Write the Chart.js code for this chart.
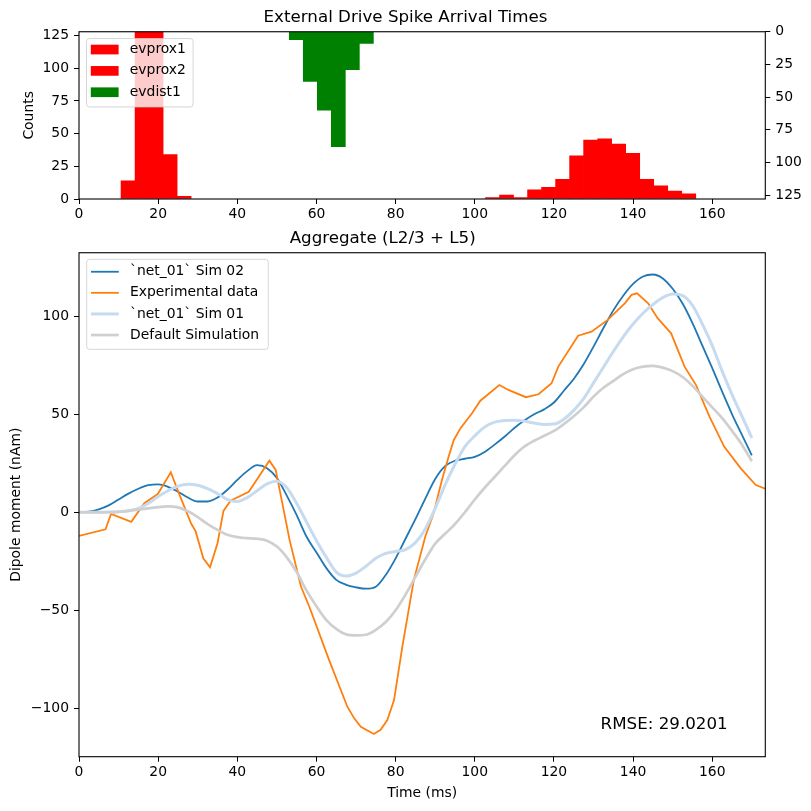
<!DOCTYPE html>
<html><head><meta charset="utf-8">
<script src="https://cdn.jsdelivr.net/npm/chart.js@4.4.1/dist/chart.umd.min.js"></script>
<style>
html,body{margin:0;padding:0;background:#fff;overflow:hidden;width:811px;height:811px;}
canvas{position:absolute;left:0;}
</style></head>
<body>
<canvas id="hist" width="811" height="230" style="top:0;width:811px;height:230px"></canvas>
<canvas id="dip" width="811" height="591" style="top:220px;width:811px;height:591px"></canvas>
<script>
const FONT = "'DejaVu Sans', 'Liberation Sans', sans-serif";

// ---------- Histogram data ----------
const histTitle = 'External Drive Spike Arrival Times';
const histAxisRange = [0, 173.4];
const histBinRange = [0, 170];
const histBinCount = 48;
const histYMax = 128;
const histXTicks = [0, 20, 40, 60, 80, 100, 120, 140, 160];
const histYTicks = [0, 25, 50, 75, 100, 125];
const histLabels = ['evprox1', 'evprox2', 'evdist1'];
const evprox1Bins = [3, 4, 5, 6, 7];
const evprox1Counts = [14, 175, 160, 34, 2];
const evprox2Bins = [29, 30, 31, 32, 33, 34, 35, 36, 37, 38, 39, 40, 41, 42, 43];
const evprox2Counts = [1, 3, 1, 7, 9, 15, 33, 45, 46, 42, 35, 15, 10, 6, 4];
const evdist1Bins = [15, 16, 17, 18, 19, 20];
const evdist1Counts = [6, 38, 60, 88, 29, 9];

// ---------- Dipole data ----------
const dipTitle = 'Aggregate (L2/3 + L5)';
const dipXRange = [0, 173.4];
const dipYRange = [-124.7, 132.4];
const dipXTicks = [0, 20, 40, 60, 80, 100, 120, 140, 160];
const dipYTicks = [-100, -50, 0, 50, 100];
const seriesNames = ['`net_01` Sim 02', 'Experimental data', '`net_01` Sim 01', 'Default Simulation'];
const rmseText = 'RMSE: 29.0201';

const simTimes = [0, 2.5, 5, 7.5, 10, 12.5, 15, 17.5, 20, 22.5, 25, 27.5, 30, 32.5, 35, 37.5,
  40, 42.5, 45, 47.5, 50, 52.5, 55, 57.5, 60, 62.5, 65, 67.5, 70, 72.5, 75, 77.5,
  80, 82.5, 85, 87.5, 90, 92.5, 95, 97.5, 100, 102.5, 105, 107.5, 110, 112.5, 115, 117.5,
  120, 122.5, 125, 127.5, 130, 132.5, 135, 137.5, 140, 142.5, 145, 147.5, 150, 152.5, 155, 157.5,
  160, 162.5, 165, 167.5, 170];

const sim02 = [0, 0.3, 1.5, 3.5, 6.5, 9.5, 12, 13.8, 14.2, 13, 10.5, 7.5, 5.5, 5.5, 7.5, 11.5,
  16.5, 21, 24, 22.5, 17.5, 8.5, -1.5, -12.5, -20.5, -28.5, -34.5, -37, -38.3, -39, -38, -32,
  -23.5, -13.5, -3.5, 7, 17, 23.5, 26.3, 27.3, 28.3, 30.8, 34.5, 38.5, 43, 46.8, 50, 52.5,
  56, 62, 68, 75.5, 84.5, 94, 103, 110.5, 116.5, 120.3, 121.3, 119.3, 114, 106.5, 96.5, 85,
  73.5, 61.5, 50, 39.5, 29];

const sim01 = [0, 0, 0, 0.1, 0.3, 0.8, 2, 4.5, 8, 11, 13.3, 14.3, 13.8, 12, 9.5, 6.5,
  5.5, 7.5, 11, 14.5, 15.8, 12.5, 4.5, -5, -14.5, -23, -30.5, -32.5, -31, -27.5, -23.5, -21,
  -20, -19, -15.5, -8.5, 2, 14, 24.5, 33.5, 39, 43.5, 46, 46.8, 47, 46.5, 45.5, 44.8,
  45, 47.5, 52, 58, 66, 74, 82, 89.5, 96, 101.5, 106, 109.5, 111.3, 110.5, 105.5, 96,
  85, 72, 60, 49, 38];

const simDefault = [0, 0, 0, 0, 0.2, 0.7, 1.3, 2, 2.6, 3, 2.5, 0.5, -2.5, -6, -9, -11.5,
  -12.7, -13.2, -13.5, -14.5, -17.5, -23, -30.5, -40, -48, -55, -59.5, -62.3, -62.8, -62.5, -60, -56,
  -50, -42, -33, -24, -16, -11, -6, 0, 6.5, 12.5, 18, 23.5, 29, 33.5, 36.5, 39,
  41.5, 45, 49, 53.5, 59, 63.5, 67, 70.5, 73, 74.3, 74.7, 73.8, 72, 69, 64.5, 59,
  53.5, 48, 41.5, 34.5, 26];

const expTimes = [0, 6.7, 8.1, 13.2, 16.5, 19.9, 23.2, 24.9, 28.3, 29.5, 31.4, 33.1, 35, 36.5, 38.3, 42.9,
  48.1, 49.7, 53.2, 56.1, 58.2, 63.2, 67.8, 69.5, 71.2, 74.5, 76.2, 77.9, 79.6, 81.7, 84.6, 87.5,
  89.6, 91.7, 93.4, 94.7, 96.4, 99.3, 101.4, 106.2, 108.5, 112.9, 116.1, 119.4, 121.1, 126.1, 129.5, 133.5,
  137.9, 139.6, 141, 143.8, 146.2, 149.6, 153, 155.9, 159.3, 163, 167.2, 171, 173.4];
const expValues = [-12.1, -8.7, -0.9, -4.9, 4.6, 9.3, 20.4, 11.4, -5.6, -9.9, -23.5, -28.1, -15.8, 0.7, 5.9, 10.5,
  26.3, 21.6, -14.1, -38, -48.2, -75.4, -99.2, -105, -109.4, -113.1, -111, -106, -95.8, -68.6, -34.5, -12.4,
  -0.5, 16.5, 28.4, 36.9, 42.9, 50.5, 56.9, 64.9, 62.4, 58.7, 60.2, 65.8, 74.3, 90.1, 92.1, 98,
  106.6, 110.9, 111.7, 106.6, 99, 91.3, 74.3, 64.9, 48.8, 33.5, 22.4, 13.9, 12];

// ---------- helpers ----------
const binWidth = (histBinRange[1] - histBinRange[0]) / histBinCount;
const toBars = (bins, counts) => bins.map((b, i) => ({ x: histBinRange[0] + (b + 0.5) * binWidth, y: counts[i] }));
const toXY = (xs, ys) => xs.map((x, i) => ({ x, y: ys[i] }));
const minusFmt = v => (v < 0 ? '\u2212' + Math.abs(v) : String(v));
const tickFont = { family: FONT, size: 13.9 };
const tickStyle = { display: true, drawOnChartArea: false, drawTicks: true, tickLength: 5, tickColor: '#000', tickWidth: 1, offset: false };

const framePlugin = {
  id: 'frame',
  afterDraw(chart) {
    const { ctx, chartArea: a } = chart;
    ctx.save();
    ctx.strokeStyle = '#000';
    ctx.lineWidth = 1.1;
    ctx.strokeRect(a.left, a.top, a.right - a.left, a.bottom - a.top);
    ctx.restore();
  }
};

function roundRect(ctx, x, y, w, h, r) {
  ctx.beginPath();
  ctx.moveTo(x + r, y);
  ctx.lineTo(x + w - r, y); ctx.quadraticCurveTo(x + w, y, x + w, y + r);
  ctx.lineTo(x + w, y + h - r); ctx.quadraticCurveTo(x + w, y + h, x + w - r, y + h);
  ctx.lineTo(x + r, y + h); ctx.quadraticCurveTo(x, y + h, x, y + h - r);
  ctx.lineTo(x, y + r); ctx.quadraticCurveTo(x, y, x + r, y);
  ctx.closePath();
}

function makeLegend(items, box) {
  return {
    id: 'inLegend',
    afterDraw(chart) {
      const { ctx, chartArea: a } = chart;
      const x = a.left + box.dx, y = a.top + box.dy;
      ctx.save();
      roundRect(ctx, x, y, box.w, box.h, 3);
      ctx.fillStyle = 'rgba(255,255,255,0.8)';
      ctx.fill();
      ctx.strokeStyle = 'rgba(204,204,204,0.8)';
      ctx.lineWidth = 1;
      ctx.stroke();
      items.forEach((it, i) => {
        const cy = y + box.row0 + i * box.gap;
        if (it.kind === 'rect') {
          ctx.fillStyle = it.color;
          ctx.fillRect(x + 4.3, cy - 4.85, 27.8, 9.7);
        } else {
          ctx.strokeStyle = it.color;
          ctx.lineWidth = it.width;
          ctx.beginPath();
          ctx.moveTo(x + 4.3, cy);
          ctx.lineTo(x + 32.1, cy);
          ctx.stroke();
        }
        ctx.fillStyle = '#000';
        ctx.font = '13.9px ' + FONT;
        ctx.textBaseline = 'middle';
        ctx.textAlign = 'left';
        ctx.fillText(it.label, x + 43.3, cy);
      });
      ctx.restore();
    }
  };
}

// ---------- Histogram chart ----------
new Chart(document.getElementById('hist'), {
  type: 'bar',
  data: {
    datasets: [
      { label: histLabels[0], data: toBars(evprox1Bins, evprox1Counts), backgroundColor: '#ff0000', yAxisID: 'y', grouped: false, barPercentage: 1, categoryPercentage: 1, borderWidth: 0 },
      { label: histLabels[1], data: toBars(evprox2Bins, evprox2Counts), backgroundColor: '#ff0000', yAxisID: 'y', grouped: false, barPercentage: 1, categoryPercentage: 1, borderWidth: 0 },
      { label: histLabels[2], data: toBars(evdist1Bins, evdist1Counts), backgroundColor: '#008000', yAxisID: 'y2', grouped: false, barPercentage: 1, categoryPercentage: 1, borderWidth: 0 }
    ]
  },
  options: {
    responsive: false,
    animation: false,
    layout: { padding: 0 },
    plugins: {
      legend: { display: false },
      tooltip: { enabled: false },
      title: { display: true, text: histTitle, color: '#000', font: { family: FONT, size: 16.7, weight: 'normal', lineHeight: 1.2 }, padding: { top: 7.5, bottom: 4.2 } }
    },
    scales: {
      x: {
        type: 'linear', position: 'bottom', min: histAxisRange[0], max: histAxisRange[1], offset: false,
        grid: tickStyle, border: { display: false },
        ticks: { font: tickFont, color: '#000', padding: 2, maxRotation: 0 },
        afterBuildTicks: s => { s.ticks = histXTicks.map(v => ({ value: v })); },
        afterFit: s => { s.height = 31; }
      },
      y: {
        type: 'linear', position: 'left', min: 0, max: histYMax,
        grid: tickStyle, border: { display: false },
        ticks: { font: tickFont, color: '#000', padding: 5 },
        title: { display: true, text: 'Counts', color: '#000', font: { family: FONT, size: 13.9, lineHeight: 1.2 }, padding: { top: 21.5, bottom: 0 } },
        afterBuildTicks: s => { s.ticks = histYTicks.map(v => ({ value: v })); },
        afterFit: s => { s.width = 79; }
      },
      y2: {
        type: 'linear', position: 'right', min: 0, max: histYMax, reverse: true,
        grid: tickStyle, border: { display: false },
        ticks: { font: tickFont, color: '#000', padding: 5 },
        afterBuildTicks: s => { s.ticks = histYTicks.map(v => ({ value: v })); },
        afterFit: s => { s.width = 45.7; }
      }
    }
  },
  plugins: [framePlugin, makeLegend([
    { kind: 'rect', color: '#ff0000', label: histLabels[0] },
    { kind: 'rect', color: '#ff0000', label: histLabels[1] },
    { kind: 'rect', color: '#008000', label: histLabels[2] }
  ], { dx: 7.5, dy: 6.8, w: 106.6, h: 68.4, row0: 11, gap: 21.35 })]
});

// ---------- Dipole chart ----------
const lineColors = ['#1f77b4', '#ff7f0e', '#c6dbef', '#cfcfcf'];
const lineWidths = [1.8, 1.8, 3, 2.7];

const rmsePlugin = {
  id: 'rmse',
  afterDraw(chart) {
    const { ctx, chartArea: a } = chart;
    ctx.save();
    ctx.fillStyle = '#000';
    ctx.font = '16.7px ' + FONT;
    ctx.textAlign = 'left';
    ctx.textBaseline = 'alphabetic';
    ctx.fillText(rmseText, a.left + 0.76 * (a.right - a.left), a.top + 0.9 * (a.bottom - a.top) + 22.4);
    ctx.restore();
  }
};

new Chart(document.getElementById('dip'), {
  type: 'line',
  data: {
    datasets: [
      { label: seriesNames[3], data: toXY(simTimes, simDefault), borderColor: lineColors[3], borderWidth: lineWidths[3], pointRadius: 0, cubicInterpolationMode: 'monotone', fill: false },
      { label: seriesNames[2], data: toXY(simTimes, sim01), borderColor: lineColors[2], borderWidth: lineWidths[2], pointRadius: 0, cubicInterpolationMode: 'monotone', fill: false },
      { label: seriesNames[1], data: toXY(expTimes, expValues), borderColor: lineColors[1], borderWidth: lineWidths[1], pointRadius: 0, tension: 0, fill: false },
      { label: seriesNames[0], data: toXY(simTimes, sim02), borderColor: lineColors[0], borderWidth: lineWidths[0], pointRadius: 0, cubicInterpolationMode: 'monotone', fill: false }
    ]
  },
  options: {
    responsive: false,
    animation: false,
    layout: { padding: { left: 0, right: 45.7, top: 0, bottom: 0 } },
    plugins: {
      legend: { display: false },
      tooltip: { enabled: false },
      title: { display: true, text: dipTitle, color: '#000', font: { family: FONT, size: 16.7, weight: 'normal', lineHeight: 1.2 }, padding: { top: 8.6, bottom: 4.1 } }
    },
    scales: {
      x: {
        type: 'linear', position: 'bottom', min: dipXRange[0], max: dipXRange[1], offset: false,
        grid: tickStyle, border: { display: false },
        ticks: { font: tickFont, color: '#000', padding: 2, maxRotation: 0 },
        title: { display: true, text: 'Time (ms)', color: '#000', font: { family: FONT, size: 13.9, lineHeight: 1.2 }, padding: { top: 0, bottom: 9.7 } },
        afterBuildTicks: s => { s.ticks = dipXTicks.map(v => ({ value: v })); },
        afterFit: s => { s.height = 54.3; }
      },
      y: {
        type: 'linear', position: 'left', min: dipYRange[0], max: dipYRange[1],
        grid: tickStyle, border: { display: false },
        ticks: { font: tickFont, color: '#000', padding: 5, callback: v => minusFmt(v) },
        title: { display: true, text: 'Dipole moment (nAm)', color: '#000', font: { family: FONT, size: 13.9, lineHeight: 1.2 }, padding: { top: 8.4, bottom: 0 } },
        afterBuildTicks: s => { s.ticks = dipYTicks.map(v => ({ value: v })); },
        afterFit: s => { s.width = 79; }
      }
    }
  },
  plugins: [framePlugin, rmsePlugin, makeLegend([
    { kind: 'line', color: lineColors[0], width: lineWidths[0], label: seriesNames[0] },
    { kind: 'line', color: lineColors[1], width: lineWidths[1], label: seriesNames[1] },
    { kind: 'line', color: lineColors[2], width: lineWidths[2], label: seriesNames[2] },
    { kind: 'line', color: lineColors[3], width: lineWidths[3], label: seriesNames[3] }
  ], { dx: 7.7, dy: 6.6, w: 181.6, h: 90, row0: 12.4, gap: 21.1 })]
});
</script>
</body></html>
